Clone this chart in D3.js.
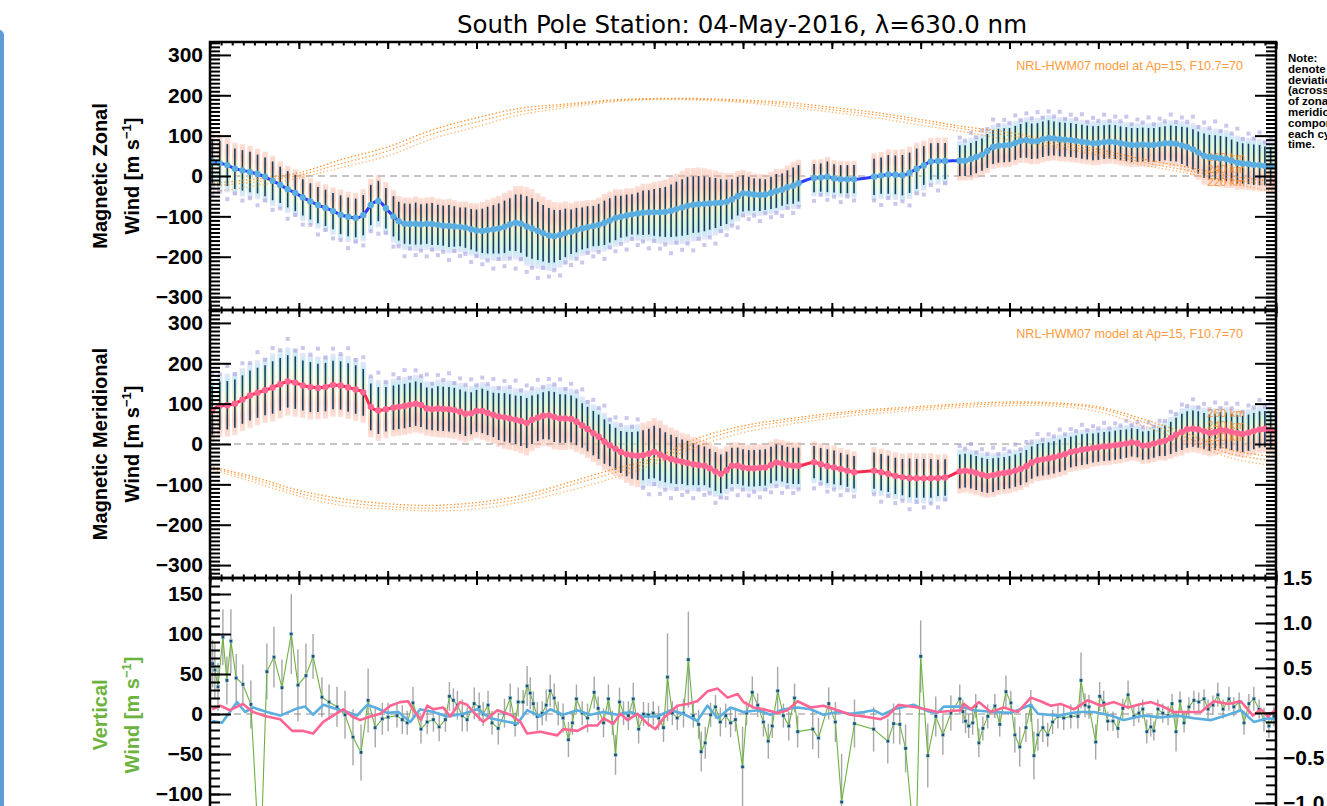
<!DOCTYPE html>
<html>
<head>
<meta charset="utf-8">
<title>South Pole Station winds</title>
<script src="https://cdn.jsdelivr.net/npm/d3@7/dist/d3.min.js"></script>
<style>
  body { margin: 0; background: #fff; overflow: hidden; }
</style>
</head>
<body>
<div id="chart"></div>
<script>
// ---------------- data (UT hours, m/s) ----------------
const obsTime = [
  0.05,0.22,0.39,0.56,0.73,0.9,1.07,1.24,1.41,1.58,1.75,1.92,2.09,2.26,2.43,2.6,2.77,2.94,3.11,3.28,3.45,3.62,3.79,3.96,4.13,
  4.25,4.38,4.5,4.63,4.75,4.88,
  5,5.13,5.25,5.38,5.5,5.63,5.75,5.88, 6,6.13,6.25,6.38,6.5,6.63,6.75,6.88,
  7,7.13,7.25,7.38,7.5,7.63,7.75,7.88, 8,8.13,8.25,8.38,8.5,8.63,8.75,8.88,
  9,9.13,9.25,9.38,9.5,9.63,9.75,9.88, 10,10.13,10.25,10.38,10.5,10.63,10.75,10.88,
  11,11.13,11.25,11.38,11.5,11.63,11.75,11.88, 12,12.13,12.25,12.38,12.5,12.63,12.75,12.88,
  13,13.13,13.25,
  13.6,13.75,13.9,14.05,14.2,14.35,14.5,
  14.95,15.11,15.27,15.43,15.59,15.75,15.91,16.07,16.23,16.39,16.55,
  16.88, 17,17.13,17.25,17.38,17.5,17.63,17.75,17.88, 18,18.13,18.25,18.38,18.5,18.63,18.75,18.88,
  19,19.13,19.25,19.38,19.5,19.63,19.75,19.88, 20,20.13,20.25,20.38,20.5,20.63,20.75,20.88,
  21,21.13,21.25,21.38,21.5,21.63,21.75,21.88, 22,22.13,22.25,22.38,22.5,22.63,22.75,22.88,
  23,23.13,23.25,23.38,23.5,23.63,23.75,23.88, 24
];
const zonMean = [
  36,32,27,18,14,10,5,-2,-12,-22,-33,-42,-53,-63,-72,-79,-87,-96,-101,-104,-97,-72,-62,-80,-100,
  -112,-118,-119,-118,-120,-118,-119,-121,-123,-124, -125,-126,-128,-132,-135,-136,-134,-132,-130,-126,
  -120,-116,-118,-125,-130,-136,-142,-147,-149,-146, -141,-138,-134,-130,-127,-124,-121,-116,-110,-104,
  -101,-98,-95,-93,-91,-90,-90,-90,-89,-86, -82,-78,-74,-71,-70,-69,-68,-67,-66,-64,
  -58,-50,-43,-44,-46,-47,-46,-42,-37,-34, -28,-24,-18,
  -5,-4,-2,-6,-8,-8,-8,
  -2,1,4,3,2,8,18,26,36,37,37,
  38,38,42,47,53,62,72,75,76,77, 82,87,89,86,87,91,94,93,91,90,
  89,87,85,83,81,82,84,85,84,81, 79,77,77,78,77,77,79,81,81,80,
  76,72,66,58,50,47,46,44,42,38, 33,31,30,28,27,25,24,23
];
const zonSd = [
  55,55,52,50,50,50,48,48,48,45,45,45,45,45,45,45,45,48,48,48,50,50,50,50,50,
  48,50,50,52,50,50,52,50,50,52, 50,48,50,50,52,55,58,60,62,65,
  65,70,72,75,75,72,70,68,65,62, 60,55,55,52,52,50,52,55,55,55,
  52,52,50,52,55,55,58,60,62,65, 68,70,72,70,70,68,65,62,58,55,
  50,48,45,42,40,40,38,40,42,40, 42,45,45,
  35,35,38,35,35,35,35,
  45,45,48,48,50,50,50,48,45,45,45,
  38,38,40,40,40,42,42,42,42,42, 42,42,44,44,44,44,44,42,42,42,
  42,42,42,42,42,42,42,42,42,42, 42,42,42,42,42,42,42,42,44,44,
  46,48,50,52,55,55,55,55,55,52, 52,50,50,50,50,48,48,48
];
const merMean = [
  83,95,96,100,110,120,127,133,140,148,155,152,145,141,139,141,146,145,140,135,128,92,83,86,90,
  92,94,97,100,97,88,86,88,87,86, 84,80,75,76,82,82,77,72,68,66,
  63,60,57,52,60,65,70,71,67,63, 63,62,55,46,37,27,18,6,-3,-12,
  -20,-25,-28,-29,-28,-24,-20,-26,-33,-37, -41,-44,-47,-50,-52,-54,-60,-68,-74,-65,
  -54,-54,-58,-60,-60,-59,-58,-52,-46,-48, -52,-54,-54,
  -45,-50,-55,-58,-62,-66,-70,
  -66,-70,-74,-79,-82,-84,-85,-85,-85,-84,-83,
  -68,-66,-68,-72,-76,-79,-77,-74,-72,-70, -66,-62,-55,-46,-40,-38,-36,-33,-29,-25,
  -20,-17,-14,-12,-10,-8,-6,-5,-3,-1, 1,4,2,-4,-3,1,5,8,15,23,
  30,36,38,36,32,28,30,34,33,30, 27,25,28,32,36,37,34,31
];
const merSd = [
  60,60,60,60,60,62,62,62,65,65,65,65,62,62,60,60,60,60,60,60,58,58,58,55,55,
  55,55,55,55,55,52,52,55,55,55, 55,55,55,52,52,55,55,55,58,60,
  60,60,62,62,60,58,58,60,62,60, 60,58,58,55,55,55,55,55,52,52,
  52,55,58,60,62,62,65,65,62,60, 58,55,55,52,50,48,48,48,48,46,
  45,45,45,45,45,45,45,45,45,45, 45,45,45,
  40,40,42,42,40,40,40,
  45,45,45,45,45,48,48,48,48,45,45,
  42,42,42,42,42,42,42,40,40,40, 40,40,40,40,40,40,40,40,40,40,
  38,38,38,38,36,36,36,36,36,36, 35,35,35,35,35,35,35,38,40,42,
  45,45,45,45,45,45,45,45,45,45, 45,45,45,45,45,45,45,45
];

// NRL-HWM07 model, hourly
const modelHour = [0,1,2,3,4,5,6,7,8,9,10,11,12,13,14,15,16,17,18,19,20,21,22,23,24];
const altitudes = ['260 km', '240 km', '220 km'];
const zonModel = [
  [-18,-8,8,42,72,114,144,168,178,188,192,192,188,182,170,157,140,122,108,86,66,42,22,0,-15],
  [-25,-15,2,32,62,104,134,160,174,186,191,190,185,177,164,151,134,116,100,79,59,34,14,-8,-25],
  [-40,-25,-5,22,50,92,122,152,169,183,189,188,182,171,158,144,126,109,89,72,52,27,7,-18,-40]
];
const merModel = [
  [-55,-82,-115,-136,-148,-152,-145,-128,-98,-65,-35,15,45,62,76,86,93,100,104,102,92,62,25,-15,-32],
  [-58,-88,-122,-144,-155,-159,-152,-136,-106,-74,-42,5,38,56,71,82,89,96,100,99,88,55,15,-25,-42],
  [-62,-95,-129,-153,-161,-166,-161,-144,-118,-87,-50,-5,28,48,64,76,84,91,95,94,80,45,5,-35,-55]
];

// vertical wind
const vertTime = [
  0.06,0.11,0.18,0.29,0.38,0.47,0.59,0.74,0.92,1.13, 1.28,1.44,1.62,1.83,1.98,2.16,2.32,2.52,2.68,2.86,
  3.04,3.22,3.40,3.56,3.72,3.88,4.01,4.21,4.33,4.44, 4.57,4.75,4.89,5.03,5.16,5.30,5.39,5.48,5.57,5.68,
  5.79,5.95,6.06,6.15,6.26,6.35,6.49,6.63,6.76,6.87, 6.94,7.05,7.14,7.21,7.28,7.37,7.48,7.57,7.66,7.75,
  7.84,7.95,8.07,8.16,8.25,8.38,8.50,8.65,8.74,8.86, 8.97,9.06,9.13,9.22,9.31,9.42,9.53,9.65,9.76,9.87,
  9.98,10.10,10.21,10.30,10.41,10.52,10.66,10.77,10.88,11.00, 11.06,11.15,11.27,11.38,11.49,11.61,11.72,11.83,11.99,12.08,
  12.21,12.33,12.46,12.57,12.66,12.78,12.91,13.03,13.16,13.23, 13.57,13.70,13.93,14.08,14.22,14.51,14.94,15.26,15.39,15.53,
  15.66,15.89,16.00,16.16,16.34,16.50,16.68,16.88,16.95,17.01, 17.08,17.17,17.24,17.31,17.40,17.51,17.67,17.78,17.92,18.03,
  18.12,18.23,18.37,18.48,18.55,18.64,18.75,18.86,18.97,19.09, 19.22,19.38,19.54,19.61,19.70,19.79,19.94,20.03,20.12,20.21,
  20.33,20.44,20.55,20.67,20.80,20.91,21.00,21.09,21.18,21.25, 21.34,21.45,21.57,21.66,21.75,21.84,21.93,22.04,22.15,22.26,
  22.38,22.47,22.58,22.69,22.81,22.94,23.05,23.17,23.28,23.39, 23.50,23.62,23.73,23.84,23.95
];
const vertWind = [
  63,55,34,96,42,91,45,37,12,-200, 53,71,33,100,36,48,72,21,15,9,
  -1,-29,-48,17,-17,-6,-4,-2,-7,-11, 14,-19,-10,-7,-16,-7,22,17,11,-2,
  -7,13,9,0,11,-11,-18,1,20,-13, 15,15,35,26,13,-3,1,11,29,20,
  1,-5,-32,-11,19,1,-5,27,7,-11, 19,-11,-51,15,1,-2,19,-19,0,-1,
  1,-5,-17,46,1,-5,1,68,-2,-13, -47,-36,-1,9,-10,-2,-11,-7,-66,1,
  27,11,-10,-34,-15,29,-2,-15,20,-22, -19,-30,13,-10,-110,-12,-19,-34,-12,-13,
  -43,-180,72,-52,-3,-26,1,19,3,-9, -15,-11,10,-36,-18,-3,10,-13,28,14,
  -26,-41,-17,10,-52,-26,-17,-26,-10,-3, -5,-3,-3,42,11,9,-35,22,14,-9,
  -9,-18,7,24,-3,1,6,-22,-16,-21, 6,1,-2,13,-22,16,-11,9,17,15,
  19,6,11,24,6,19,9,15,-11,13, 19,6,-7,-15,-3
];
const vertErr = [
  30,35,30,35,30,40,30,25,30,70, 35,38,35,50,45,40,28,25,22,25,
  30,35,35,40,25,20,18,15,18,15, 20,18,15,15,18,15,18,15,18,20,
  15,20,18,15,18,15,20,18,18,15, 18,15,25,20,15,18,15,20,20,18,
  15,18,22,15,18,15,18,20,15,18, 18,15,25,18,15,18,20,18,15,15,
  15,15,18,55,15,15,18,60,15,18, 25,20,15,15,18,15,18,15,50,15,
  20,15,18,22,15,30,15,18,18,20, 25,25,20,25,60,30,28,28,25,25,
  30,60,45,40,25,25,22,18,15,15, 15,15,15,18,15,15,15,15,20,15,
  22,25,18,20,30,20,18,15,15,15, 15,15,15,35,15,15,22,18,15,12,
  12,12,12,18,12,12,12,15,12,12, 12,12,12,12,25,12,12,12,12,12,
  12,12,12,15,12,15,12,12,15,12, 15,12,15,15,12
];

// right-axis series (blue: zonal, pink: meridional)
const zGradTime = [
  0.05,0.27,0.61,0.79,0.97,1.28,1.58,1.96,2.14,2.32, 2.55,2.86,3.09,3.31,3.54,3.72,3.99,4.24,4.51,4.73,
  5.03,5.34,5.70,6.02,6.31,6.60,6.92,7.14,7.44,7.66, 7.95,8.27,8.56,8.86,9.17,9.46,9.76,10.07,10.37,10.66,
  10.97,11.20,11.43,11.72,12.01,12.33,12.62,12.91,13.23,13.52, 13.81,14.13,14.42,14.72,14.94,15.14,15.39,15.84,16.16,16.38,
  16.52,16.90,17.19,17.65,18.03,18.48,18.64,19.09,19.54,19.90, 20.28,20.57,21.03,21.41,21.79,22.15,22.54,22.92,23.21,23.50,
  23.82,24.0
];
const zGrad = [
  -0.09,-0.11,0.12,0.01,0.06,0.01,-0.03,0.05,0.07,-0.02, 0.09,0.04,0.01,-0.03,0.09,0.06,0,0.01,-0.10,0.04,
  0.01,-0.04,-0.01,0.04,-0.06,-0.09,-0.12,0.03,-0.04,0.04, -0.02,0.03,-0.02,0.01,-0.02,0.01,-0.04,-0.04,0.03,-0.01,
  -0.09,0.08,-0.06,0.06,0.01,0.03,-0.02,0.04,0.06,0.04, -0.02,0.01,-0.01,0.01,0.03,-0.02,0.04,0.09,0.02,0,
  0.07,0.07,0.03,0.01,0,0.09,-0.01,-0.03,0.01,0.01, -0.03,-0.08,-0.03,-0.05,-0.03,-0.06,-0.08,-0.02,0.03,-0.10,
  -0.06,-0.07
];
const mGradTime = [
  0.05,0.23,0.45,0.74,0.97,1.28,1.58,1.85,2.10,2.32, 2.55,2.77,3.00,3.20,3.38,3.61,3.83,4.06,4.28,4.46,
  4.57,4.75,4.89,5.03,5.25,5.41,5.63,5.79,5.93,6.15, 6.47,6.76,6.99,7.14,7.44,7.82,7.95,8.27,8.50,8.72,
  8.86,9.08,9.24,9.40,9.62,9.85,10.03,10.21,10.52,10.75, 10.97,11.20,11.43,11.65,11.88,12.01,12.24,12.46,12.78,13.00,
  13.23,13.52,13.81,14.13,14.42,14.72,15.10,15.26,15.50,15.93, 16.38,16.90,16.97,17.13,17.31,17.58,17.87,18.19,18.48,18.70,
  18.93,19.15,19.45,19.76,20.06,20.35,20.67,20.96,21.18,21.41, 21.70,22.02,22.31,22.60,22.92,23.21,23.48,23.66,23.82,24.0
];
const mGrad = [
  0.04,0.08,0.03,0.10,0.01,-0.04,-0.07,-0.20,-0.20,-0.23, -0.10,-0.03,0.04,-0.04,-0.08,-0.04,-0.01,0.08,0.12,0.13,
  0.04,-0.08,0.08,0.04,0.06,-0.04,0.12,0.09,0.01,-0.10, 0.03,-0.02,-0.10,-0.23,-0.21,-0.25,-0.18,-0.20,-0.14,-0.14,
  -0.06,-0.12,-0.01,-0.08,-0.01,-0.12,-0.18,-0.06,0.08,0.10, 0.13,0.24,0.27,0.17,0.21,0.12,0.06,0.04,0,0.03,
  0.13,0.06,0.08,0.03,-0.02,-0.04,-0.07,-0.03,0.09,0.06, 0.01,0.03,0.10,0.04,0.12,0.01,0.06,0.01,0.17,0.13,
  0.08,0.10,0.04,0.14,0.08,0.12,0.06,0.10,0.12,0.08, 0.01,0.01,0.01,0.13,0.10,0.13,-0.03,0.04,-0.04,0.04
];

// tick values
const hourTicks = [0,2,4,6,8,10,12,14,16,18,20,22,24];
const windTicks = [-300,-200,-100,0,100,200,300];
const vertTicks = [-150,-100,-50,0,50,100,150];
const rightTicks = [-1.5,-1.0,-0.5,0.0,0.5,1.0,1.5];

const noteLines = ['Note:', 'denote the', 'deviation', '(across', 'of zonal and', 'meridional', 'components', 'each cycle', 'time.'];

// ---------------- layout ----------------
const width = 1327, height = 806;
const plotLeft = 210, plotRight = 1276;
const numFont = 'Liberation Sans, Arial, sans-serif';

const svg = d3.select('#chart').append('svg')
  .attr('width', width).attr('height', height);

const x = d3.scaleLinear().domain([0, 24]).range([plotLeft, plotRight]);
const yZon = d3.scaleLinear().domain([-332, 332]).range([310, 42]);
const yMer = d3.scaleLinear().domain([-332, 332]).range([578, 310]);
const yVert = d3.scaleLinear().domain([-165, 170]).range([846, 578]);
const yRight = d3.scaleLinear().domain([-1.48, 1.5]).range([846, 578]);

// side bar of the viewer window
svg.append('rect').attr('x', -6).attr('y', 30).attr('width', 10).attr('height', 800)
  .attr('rx', 5).attr('fill', '#5e9cd6');

const defs = svg.append('defs');
[['clipZon', 42, 310], ['clipMer', 310, 578], ['clipVert', 578, 846]].forEach(([id, t, b]) => {
  defs.append('clipPath').attr('id', id).append('rect')
    .attr('x', plotLeft).attr('y', t).attr('width', plotRight - plotLeft).attr('height', b - t);
});
function gradient(id, stops) {
  const lg = defs.append('linearGradient').attr('id', id)
    .attr('x1', 0).attr('y1', 0).attr('x2', 0).attr('y2', 1);
  stops.forEach(([o, c, op]) => lg.append('stop').attr('offset', o).attr('stop-color', c).attr('stop-opacity', op));
}
gradient('warmTop', [['0%', '#f9b4a0', 0.5], ['25%', '#f8b49c', 0.9], ['50%', '#f6e6a8', 0.9], ['72%', '#c3f0cc', 0.9], ['90%', '#b4e2f0', 0.85], ['100%', '#c2c6f2', 0.5]]);
gradient('coolTop', [['0%', '#c2c6f2', 0.5], ['10%', '#b4e2f0', 0.85], ['28%', '#c3f0cc', 0.9], ['50%', '#f6e6a8', 0.9], ['75%', '#f8b49c', 0.9], ['100%', '#f9b4a0', 0.5]]);

const nObs = Math.min(obsTime.length, zonMean.length, zonSd.length, merMean.length, merSd.length);
const obsIdx = d3.range(nObs);
const squareReach = [1.5, 1.3, 1.62, 1.22];  // scatter of outlier squares, in units of sd

function windPanel(y, clipId, mean, sd, coolSpans, lineColor, dotColor, model, labelVals) {
  const g = svg.append('g').attr('clip-path', `url(#${clipId})`);
  g.append('line').attr('x1', plotLeft).attr('x2', plotRight)
    .attr('y1', y(0)).attr('y2', y(0))
    .attr('stroke', '#8c8c8c').attr('stroke-width', 1.2).attr('stroke-dasharray', '7,5');

  const cool = i => coolSpans.some(([a, b]) => obsTime[i] >= a && obsTime[i] < b);

  // spread of the individual look directions
  g.append('g').attr('opacity', 0.8).selectAll('rect').data(obsIdx).join('rect')
    .attr('x', i => x(obsTime[i]) - 2.6).attr('width', 5.2)
    .attr('y', i => y(mean[i] + 1.3 * sd[i]))
    .attr('height', i => y(mean[i] - 1.3 * sd[i]) - y(mean[i] + 1.3 * sd[i]))
    .attr('fill', i => cool(i) ? 'url(#coolTop)' : 'url(#warmTop)');

  // outlier squares at the cool end
  g.append('g').selectAll('rect').data(obsIdx).join('rect')
    .attr('x', i => x(obsTime[i]) - 2).attr('width', 4).attr('height', 4)
    .attr('y', i => y(mean[i] + (cool(i) ? 1 : -1) * squareReach[i % 4] * sd[i]) - 2)
    .attr('fill', '#a9a4de').attr('opacity', 0.6);

  // standard deviation bars
  g.append('g').selectAll('line').data(obsIdx).join('line')
    .attr('x1', i => x(obsTime[i])).attr('x2', i => x(obsTime[i]))
    .attr('y1', i => y(mean[i] + sd[i])).attr('y2', i => y(mean[i] - sd[i]))
    .attr('stroke', '#163d5c').attr('stroke-width', 1.6);

  // model curves
  const mLine = d3.line().x((d, i) => x(modelHour[i])).y(d => y(d)).curve(d3.curveCatmullRom);
  model.forEach((vals, k) => {
    g.append('path').attr('d', mLine(vals)).attr('fill', 'none')
      .attr('stroke', '#ff8a1c').attr('stroke-width', 1.3)
      .attr('stroke-dasharray', '1.4,2.2').attr('opacity', [0.95, 0.8, 0.6][k]);
  });
  altitudes.forEach((a, k) => {
    g.append('text').attr('x', 1245).attr('y', y(labelVals[k]))
      .attr('text-anchor', 'end').attr('font-family', numFont).attr('font-size', 11.5)
      .attr('fill', '#ff8a1c').attr('opacity', 0.85).text(a);
  });

  // mean wind
  const meanLine = d3.line().x(i => x(obsTime[i])).y(i => y(mean[i])).curve(d3.curveMonotoneX);
  g.append('path').attr('d', meanLine(obsIdx)).attr('fill', 'none')
    .attr('stroke', lineColor).attr('stroke-width', 3);
  g.append('g').selectAll('circle').data(obsIdx).join('circle')
    .attr('cx', i => x(obsTime[i])).attr('cy', i => y(mean[i])).attr('r', 3.2)
    .attr('fill', dotColor);

  svg.append('text').attr('x', 1243).attr('y', y.range()[1] + 28)
    .attr('text-anchor', 'end').attr('font-family', numFont).attr('font-size', 12.6)
    .attr('fill', '#ff9a3c').text('NRL-HWM07 model at Ap=15, F10.7=70');
}

windPanel(yZon, 'clipZon', zonMean, zonSd, [[16.8, 25]], '#2a3cff', '#5aaee0', zonModel, [37, 7, -25]);
windPanel(yMer, 'clipMer', merMean, merSd, [[0, 9.7], [16.8, 25]], '#ff2a4c', '#ff6592', merModel, [67, 37, 7]);

// ---------------- vertical wind panel ----------------
{
  const g = svg.append('g').attr('clip-path', 'url(#clipVert)');
  const n = Math.min(vertTime.length, vertWind.length, vertErr.length);
  const idx = d3.range(n);
  g.append('line').attr('x1', plotLeft).attr('x2', plotRight)
    .attr('y1', yVert(0)).attr('y2', yVert(0))
    .attr('stroke', '#8c8c8c').attr('stroke-width', 1.2).attr('stroke-dasharray', '7,5');
  g.append('g').selectAll('line').data(idx).join('line')
    .attr('x1', i => x(vertTime[i])).attr('x2', i => x(vertTime[i]))
    .attr('y1', i => yVert(vertWind[i] + vertErr[i])).attr('y2', i => yVert(vertWind[i] - vertErr[i]))
    .attr('stroke', '#8a8a8a').attr('stroke-width', 1.4).attr('opacity', 0.75);
  const vLine = d3.line().x(i => x(vertTime[i])).y(i => yVert(vertWind[i]));
  g.append('path').attr('d', vLine(idx)).attr('fill', 'none')
    .attr('stroke', '#6cb33e').attr('stroke-width', 1.1);
  g.append('g').selectAll('rect').data(idx).join('rect')
    .attr('x', i => x(vertTime[i]) - 1.6).attr('y', i => yVert(vertWind[i]) - 1.6)
    .attr('width', 3.2).attr('height', 3.2)
    .attr('fill', '#1d4f6c').attr('stroke', '#9fd0e2').attr('stroke-width', 0.5);
  const rLine = (t, v) => d3.line().x((d, i) => x(t[i])).y(d => yRight(d))(v);
  g.append('path').attr('d', rLine(zGradTime, zGrad)).attr('fill', 'none')
    .attr('stroke', '#5aaee0').attr('stroke-width', 2.6).attr('stroke-linejoin', 'round');
  g.append('path').attr('d', rLine(mGradTime, mGrad)).attr('fill', 'none')
    .attr('stroke', '#ff6592').attr('stroke-width', 2.6).attr('stroke-linejoin', 'round');
}

// ---------------- axes & frames ----------------
function styleAxis(g, size) {
  g.select('.domain').remove();
  g.selectAll('.tick line').attr('stroke', '#000').attr('stroke-width', 2);
  g.attr('font-family', numFont).attr('font-size', size).attr('font-weight', 'bold');
  g.selectAll('.tick text').attr('fill', '#000');
}
const inDomain = (s, vals) => vals.filter(v => v >= s.domain()[0] - 1e-9 && v <= s.domain()[1] + 1e-9);
const hourMinor = d3.range(0, 24.001, 0.25);

function xTicks(yPos, axisFn) {
  svg.append('g').attr('transform', `translate(0,${yPos})`)
    .call(axisFn(x).tickValues(hourMinor).tickSize(-3.5).tickSizeOuter(0).tickFormat(''))
    .call(styleAxis, 10);
  svg.append('g').attr('transform', `translate(0,${yPos})`)
    .call(axisFn(x).tickValues(hourTicks).tickSize(-7).tickSizeOuter(0).tickFormat(''))
    .call(styleAxis, 10);
}
function yTicks(scale, major, minorStep, side, fmt) {
  const xPos = side === 'left' ? plotLeft : plotRight;
  const fn = side === 'left' ? d3.axisLeft : d3.axisRight;
  const [d0, d1] = scale.domain();
  const minor = inDomain(scale, d3.range(Math.ceil(d0 / minorStep) * minorStep, d1 + 1e-9, minorStep));
  svg.append('g').attr('transform', `translate(${xPos},0)`)
    .call(fn(scale).tickValues(minor).tickSize(-10).tickSizeOuter(0).tickFormat(''))
    .call(styleAxis, 10);
  svg.append('g').attr('transform', `translate(${xPos},0)`)
    .call(fn(scale).tickValues(inDomain(scale, major)).tickSize(-21).tickSizeOuter(0).tickPadding(7)
      .tickFormat(fmt || ''))
    .call(styleAxis, 21);
}

[[42, 310], [310, 578], [578, 846]].forEach(([t, b]) => {
  xTicks(t, d3.axisTop);
  xTicks(b, d3.axisBottom);
});
yTicks(yZon, windTicks, 10, 'left', d3.format('d'));
yTicks(yZon, windTicks, 10, 'right', null);
yTicks(yMer, windTicks, 10, 'left', d3.format('d'));
yTicks(yMer, windTicks, 10, 'right', null);
yTicks(yVert, vertTicks, 10, 'left', d3.format('d'));
yTicks(yRight, rightTicks, 0.1, 'right', d3.format('.1f'));

[[42, 310], [310, 578], [578, 846]].forEach(([t, b]) => {
  svg.append('rect').attr('x', plotLeft).attr('y', t)
    .attr('width', plotRight - plotLeft).attr('height', b - t)
    .attr('fill', 'none').attr('stroke', '#000').attr('stroke-width', 2.5);
});

// ---------------- titles ----------------
svg.append('text').attr('x', 742).attr('y', 33).attr('text-anchor', 'middle')
  .attr('font-family', 'DejaVu Sans, sans-serif').attr('font-size', 24.5)
  .text('South Pole Station: 04-May-2016, λ=630.0 nm');

function yTitle(first, cy, color) {
  const mk = xb => svg.append('text')
    .attr('transform', `translate(${xb},${cy}) rotate(-90)`)
    .attr('text-anchor', 'middle').attr('font-family', numFont)
    .attr('font-size', 20).attr('font-weight', 'bold').attr('fill', color);
  mk(107).text(first);
  const t = mk(139);
  t.append('tspan').text('Wind [m s');
  t.append('tspan').attr('dy', -8).attr('font-size', 13).text('−1');
  t.append('tspan').attr('dy', 8).text(']');
}
yTitle('Magnetic Zonal', 176, '#000');
yTitle('Magnetic Meridional', 444, '#000');
yTitle('Vertical', 715, '#6cb33e');

svg.append('g').selectAll('text').data(noteLines).join('text')
  .attr('x', 1288).attr('y', (d, i) => 62 + i * 10.8)
  .attr('font-family', numFont).attr('font-size', 11.5).attr('font-weight', 'bold')
  .text(d => d);
</script>
</body>
</html>
